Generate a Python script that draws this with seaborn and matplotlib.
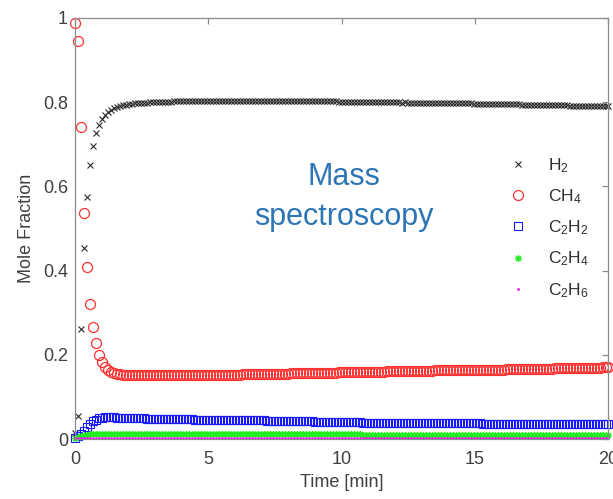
import matplotlib
matplotlib.use("Agg")
import matplotlib.pyplot as plt
import seaborn as sns
import pandas as pd

# ---------------- data ----------------
time_min = [
    0, 0.1125, 0.225, 0.3375, 0.45, 0.5625, 0.675, 0.7875,
    0.9, 1.0125, 1.125, 1.2375, 1.35, 1.4625, 1.575, 1.6875,
    1.8, 1.9125, 2.025, 2.1375, 2.25, 2.3625, 2.475, 2.5875,
    2.7, 2.8125, 2.925, 3.0375, 3.15, 3.2625, 3.375, 3.4875,
    3.6, 3.7125, 3.825, 3.9375, 4.05, 4.1625, 4.275, 4.3875,
    4.5, 4.6125, 4.725, 4.8375, 4.95, 5.0625, 5.175, 5.2875,
    5.4, 5.5125, 5.625, 5.7375, 5.85, 5.9625, 6.075, 6.1875,
    6.3, 6.4125, 6.525, 6.6375, 6.75, 6.8625, 6.975, 7.0875,
    7.2, 7.3125, 7.425, 7.5375, 7.65, 7.7625, 7.875, 7.9875,
    8.1, 8.2125, 8.325, 8.4375, 8.55, 8.6625, 8.775, 8.8875,
    9.0, 9.1125, 9.225, 9.3375, 9.45, 9.5625, 9.675, 9.7875,
    9.9, 10.0125, 10.125, 10.2375, 10.35, 10.4625, 10.575, 10.6875,
    10.8, 10.9125, 11.025, 11.1375, 11.25, 11.3625, 11.475, 11.5875,
    11.7, 11.8125, 11.925, 12.0375, 12.15, 12.2625, 12.375, 12.4875,
    12.6, 12.7125, 12.825, 12.9375, 13.05, 13.1625, 13.275, 13.3875,
    13.5, 13.6125, 13.725, 13.8375, 13.95, 14.0625, 14.175, 14.2875,
    14.4, 14.5125, 14.625, 14.7375, 14.85, 14.9625, 15.075, 15.1875,
    15.3, 15.4125, 15.525, 15.6375, 15.75, 15.8625, 15.975, 16.0875,
    16.2, 16.3125, 16.425, 16.5375, 16.65, 16.7625, 16.875, 16.9875,
    17.1, 17.2125, 17.325, 17.4375, 17.55, 17.6625, 17.775, 17.8875,
    18.0, 18.1125, 18.225, 18.3375, 18.45, 18.5625, 18.675, 18.7875,
    18.9, 19.0125, 19.125, 19.2375, 19.35, 19.4625, 19.575, 19.6875,
    19.8, 19.9125, 20.0,
]

h2 = [
    0.014, 0.055, 0.262, 0.454, 0.576, 0.652, 0.697, 0.728,
    0.747, 0.760, 0.770, 0.777, 0.782, 0.786, 0.789, 0.791,
    0.793, 0.794, 0.795, 0.796, 0.797, 0.798, 0.798, 0.799,
    0.799, 0.800, 0.800, 0.800, 0.801, 0.801, 0.801, 0.801,
    0.801, 0.802, 0.802, 0.802, 0.802, 0.802, 0.802, 0.802,
    0.803, 0.803, 0.803, 0.803, 0.803, 0.803, 0.803, 0.803,
    0.803, 0.804, 0.803, 0.803, 0.804, 0.803, 0.803, 0.803,
    0.803, 0.803, 0.804, 0.803, 0.803, 0.803, 0.803, 0.804,
    0.803, 0.803, 0.803, 0.803, 0.803, 0.803, 0.803, 0.803,
    0.803, 0.803, 0.803, 0.803, 0.802, 0.802, 0.802, 0.802,
    0.802, 0.802, 0.802, 0.802, 0.802, 0.802, 0.802, 0.802,
    0.801, 0.801, 0.801, 0.801, 0.801, 0.801, 0.801, 0.801,
    0.801, 0.801, 0.801, 0.800, 0.801, 0.800, 0.800, 0.800,
    0.800, 0.800, 0.800, 0.800, 0.800, 0.799, 0.800, 0.799,
    0.799, 0.799, 0.799, 0.799, 0.799, 0.798, 0.798, 0.798,
    0.798, 0.798, 0.798, 0.798, 0.798, 0.797, 0.797, 0.797,
    0.797, 0.797, 0.797, 0.797, 0.797, 0.796, 0.796, 0.796,
    0.796, 0.796, 0.796, 0.796, 0.796, 0.795, 0.795, 0.795,
    0.795, 0.795, 0.795, 0.795, 0.795, 0.794, 0.794, 0.794,
    0.794, 0.794, 0.794, 0.794, 0.794, 0.793, 0.793, 0.793,
    0.793, 0.793, 0.793, 0.793, 0.793, 0.792, 0.792, 0.792,
    0.792, 0.792, 0.792, 0.792, 0.792, 0.791, 0.791, 0.791,
    0.791, 0.791, 0.791,
]

ch4 = [
    0.987, 0.945, 0.740, 0.538, 0.409, 0.320, 0.266, 0.228,
    0.200, 0.182, 0.171, 0.164, 0.160, 0.157, 0.155, 0.154,
    0.153, 0.153, 0.152, 0.152, 0.152, 0.152, 0.152, 0.152,
    0.152, 0.151, 0.151, 0.151, 0.151, 0.151, 0.151, 0.151,
    0.151, 0.151, 0.151, 0.152, 0.152, 0.152, 0.152, 0.152,
    0.152, 0.152, 0.152, 0.152, 0.152, 0.152, 0.152, 0.152,
    0.153, 0.153, 0.153, 0.153, 0.153, 0.153, 0.153, 0.153,
    0.154, 0.154, 0.154, 0.154, 0.154, 0.154, 0.154, 0.154,
    0.155, 0.155, 0.155, 0.155, 0.155, 0.155, 0.155, 0.155,
    0.156, 0.156, 0.156, 0.156, 0.156, 0.156, 0.156, 0.156,
    0.157, 0.157, 0.157, 0.157, 0.157, 0.157, 0.157, 0.157,
    0.158, 0.158, 0.158, 0.158, 0.158, 0.159, 0.159, 0.159,
    0.159, 0.160, 0.160, 0.160, 0.160, 0.160, 0.160, 0.160,
    0.161, 0.161, 0.161, 0.161, 0.161, 0.161, 0.161, 0.161,
    0.162, 0.162, 0.162, 0.162, 0.162, 0.162, 0.162, 0.162,
    0.163, 0.163, 0.163, 0.163, 0.163, 0.163, 0.163, 0.163,
    0.164, 0.164, 0.164, 0.164, 0.164, 0.164, 0.164, 0.164,
    0.165, 0.165, 0.165, 0.165, 0.165, 0.165, 0.165, 0.165,
    0.166, 0.166, 0.166, 0.166, 0.166, 0.166, 0.166, 0.166,
    0.167, 0.167, 0.167, 0.167, 0.167, 0.167, 0.167, 0.167,
    0.168, 0.168, 0.168, 0.168, 0.168, 0.168, 0.168, 0.168,
    0.169, 0.169, 0.169, 0.169, 0.169, 0.169, 0.169, 0.169,
    0.170, 0.170, 0.170,
]

c2h2 = [
    0.002, 0.006, 0.012, 0.020, 0.028, 0.036, 0.042, 0.046,
    0.049, 0.051, 0.052, 0.052, 0.052, 0.052, 0.051, 0.051,
    0.050, 0.050, 0.050, 0.050, 0.049, 0.049, 0.049, 0.049,
    0.048, 0.048, 0.048, 0.048, 0.048, 0.048, 0.048, 0.048,
    0.047, 0.047, 0.047, 0.047, 0.047, 0.047, 0.047, 0.047,
    0.046, 0.046, 0.046, 0.046, 0.046, 0.046, 0.046, 0.046,
    0.045, 0.045, 0.045, 0.045, 0.045, 0.045, 0.045, 0.045,
    0.044, 0.044, 0.044, 0.044, 0.044, 0.044, 0.044, 0.044,
    0.043, 0.043, 0.043, 0.043, 0.043, 0.043, 0.043, 0.043,
    0.042, 0.042, 0.042, 0.042, 0.042, 0.042, 0.042, 0.042,
    0.041, 0.041, 0.041, 0.041, 0.041, 0.041, 0.041, 0.041,
    0.040, 0.040, 0.040, 0.040, 0.040, 0.040, 0.040, 0.040,
    0.039, 0.039, 0.039, 0.039, 0.039, 0.039, 0.039, 0.039,
    0.038, 0.038, 0.038, 0.038, 0.038, 0.038, 0.038, 0.038,
    0.038, 0.038, 0.038, 0.038, 0.038, 0.038, 0.038, 0.038,
    0.037, 0.037, 0.037, 0.037, 0.037, 0.037, 0.037, 0.037,
    0.037, 0.037, 0.037, 0.037, 0.037, 0.037, 0.037, 0.037,
    0.036, 0.036, 0.036, 0.036, 0.036, 0.036, 0.036, 0.036,
    0.036, 0.036, 0.036, 0.036, 0.036, 0.036, 0.036, 0.036,
    0.036, 0.036, 0.036, 0.036, 0.036, 0.036, 0.036, 0.036,
    0.035, 0.035, 0.035, 0.035, 0.035, 0.035, 0.035, 0.035,
    0.035, 0.035, 0.035, 0.035, 0.035, 0.035, 0.035, 0.035,
    0.035, 0.035, 0.035,
]

c2h4 = [
    0.003, 0.005, 0.007, 0.009, 0.010, 0.011, 0.011, 0.011,
    0.011, 0.011, 0.011, 0.011, 0.011, 0.011, 0.011, 0.011,
    0.011, 0.011, 0.011, 0.011, 0.011, 0.011, 0.011, 0.011,
    0.011, 0.011, 0.011, 0.011, 0.011, 0.011, 0.011, 0.011,
    0.011, 0.011, 0.011, 0.011, 0.011, 0.011, 0.011, 0.011,
    0.011, 0.011, 0.011, 0.011, 0.011, 0.011, 0.011, 0.011,
    0.011, 0.011, 0.011, 0.011, 0.011, 0.011, 0.011, 0.011,
    0.011, 0.011, 0.011, 0.011, 0.011, 0.011, 0.011, 0.011,
    0.011, 0.011, 0.011, 0.011, 0.011, 0.011, 0.011, 0.011,
    0.011, 0.011, 0.011, 0.011, 0.011, 0.011, 0.011, 0.011,
    0.011, 0.011, 0.011, 0.011, 0.011, 0.011, 0.011, 0.011,
    0.011, 0.011, 0.011, 0.011, 0.011, 0.011, 0.011, 0.011,
    0.010, 0.010, 0.010, 0.010, 0.010, 0.010, 0.010, 0.010,
    0.010, 0.010, 0.010, 0.010, 0.010, 0.010, 0.010, 0.010,
    0.010, 0.010, 0.010, 0.010, 0.010, 0.010, 0.010, 0.010,
    0.010, 0.010, 0.010, 0.010, 0.010, 0.010, 0.010, 0.010,
    0.010, 0.010, 0.010, 0.010, 0.010, 0.010, 0.010, 0.010,
    0.010, 0.010, 0.010, 0.010, 0.010, 0.010, 0.010, 0.010,
    0.010, 0.010, 0.010, 0.010, 0.010, 0.010, 0.010, 0.010,
    0.010, 0.010, 0.010, 0.010, 0.010, 0.010, 0.010, 0.010,
    0.010, 0.010, 0.010, 0.010, 0.010, 0.010, 0.010, 0.010,
    0.010, 0.010, 0.010, 0.010, 0.010, 0.010, 0.010, 0.010,
    0.010, 0.010, 0.010,
]

c2h6 = [
    0.002, 0.002, 0.003, 0.003, 0.003, 0.003, 0.003, 0.003,
    0.003, 0.003, 0.003, 0.003, 0.003, 0.003, 0.003, 0.003,
    0.003, 0.003, 0.003, 0.003, 0.003, 0.003, 0.003, 0.003,
    0.003, 0.003, 0.003, 0.003, 0.003, 0.003, 0.003, 0.003,
    0.003, 0.003, 0.003, 0.003, 0.003, 0.003, 0.003, 0.003,
    0.003, 0.003, 0.003, 0.003, 0.003, 0.003, 0.003, 0.003,
    0.003, 0.003, 0.003, 0.003, 0.003, 0.003, 0.003, 0.003,
    0.003, 0.003, 0.003, 0.003, 0.003, 0.003, 0.003, 0.003,
    0.003, 0.003, 0.003, 0.003, 0.003, 0.003, 0.003, 0.003,
    0.003, 0.003, 0.003, 0.003, 0.003, 0.003, 0.003, 0.003,
    0.003, 0.003, 0.003, 0.003, 0.003, 0.003, 0.003, 0.003,
    0.003, 0.003, 0.003, 0.003, 0.003, 0.003, 0.003, 0.003,
    0.003, 0.003, 0.003, 0.003, 0.003, 0.003, 0.003, 0.003,
    0.003, 0.003, 0.003, 0.003, 0.003, 0.003, 0.003, 0.003,
    0.003, 0.003, 0.003, 0.003, 0.003, 0.003, 0.003, 0.003,
    0.003, 0.003, 0.003, 0.003, 0.003, 0.003, 0.003, 0.003,
    0.003, 0.003, 0.003, 0.003, 0.003, 0.003, 0.003, 0.003,
    0.003, 0.003, 0.003, 0.003, 0.003, 0.003, 0.003, 0.003,
    0.003, 0.003, 0.003, 0.003, 0.003, 0.003, 0.003, 0.003,
    0.003, 0.003, 0.003, 0.003, 0.003, 0.003, 0.003, 0.003,
    0.003, 0.003, 0.003, 0.003, 0.003, 0.003, 0.003, 0.003,
    0.003, 0.003, 0.003, 0.003, 0.003, 0.003, 0.003, 0.003,
    0.003, 0.003, 0.003,
]

species_labels = ["H$_2$", "CH$_4$", "C$_2$H$_2$", "C$_2$H$_4$", "C$_2$H$_6$"]
x_ticks = [0, 5, 10, 15, 20]
y_ticks = [0, 0.2, 0.4, 0.6, 0.8, 1]
y_tick_labels = ["0", "0.2", "0.4", "0.6", "0.8", "1"]
annotation_text = "Mass\nspectroscopy"

# ---------------- styling ----------------
sns.set_theme(style="white")
plt.rcParams["font.family"] = ["Liberation Sans", "DejaVu Sans"]
plt.rcParams["mathtext.fontset"] = "custom"
plt.rcParams["mathtext.rm"] = "Liberation Sans"
plt.rcParams["mathtext.it"] = "Liberation Sans"

fig = plt.figure(figsize=(6.13, 4.99), dpi=100)
ax = fig.add_axes([75 / 613, 1 - 439 / 499, 533 / 613, 421 / 499])

series = [h2, ch4, c2h2, c2h4, c2h6]
colors = ["#2a2a2a", "#ff3030", "#1a1aff", "#22ee22", "#ff00ff"]
styles = [
    dict(marker="x", markersize=4.6, markeredgewidth=0.8),
    dict(marker="o", markersize=7.2, markeredgewidth=0.9, markerfacecolor="none"),
    dict(marker="s", markersize=5.2, markeredgewidth=0.8, markerfacecolor="none"),
    dict(marker=(8, 2, 0), markersize=5.0, markeredgewidth=0.8),
    dict(marker=".", markersize=2.8, markeredgewidth=0.5),
]

for vals, lab, col, st in zip(series, species_labels, colors, styles):
    df = pd.DataFrame({"t": time_min, "v": vals})
    sns.lineplot(data=df, x="t", y="v", ax=ax, linestyle="", label=lab,
                 color=col, markeredgecolor=col, clip_on=False, sort=False,
                 estimator=None, **st)

ax.set_xlim(0, 20)
ax.set_ylim(0, 1)
ax.set_xticks(x_ticks)
ax.set_xticklabels([str(v) for v in x_ticks])
ax.set_yticks(y_ticks)
ax.set_yticklabels(y_tick_labels)

spine_color = "#8c8c8c"
for s in ax.spines.values():
    s.set_visible(True)
    s.set_color(spine_color)
    s.set_linewidth(0.9)
ax.tick_params(axis="both", direction="in", length=4, width=0.9,
               colors=spine_color, labelcolor="#404040", labelsize=13,
               top=True, right=True)
ax.tick_params(axis="x", pad=9)
ax.tick_params(axis="y", pad=5)

ax.set_xlabel("Time [min]", fontsize=13, color="#404040", labelpad=4)
ax.set_ylabel("Mole Fraction", fontsize=13, color="#404040", labelpad=6)

ax.text(10.1, 0.575, annotation_text, ha="center", va="center",
        fontsize=22, color="#2e75b6", linespacing=1.4)

leg = ax.legend(loc="upper left", bbox_to_anchor=(0.815, 0.672),
                frameon=False, fontsize=12.5, handlelength=1.0,
                handletextpad=1.2, labelspacing=0.72, borderpad=0,
                borderaxespad=0, labelcolor="#303030")

fig.savefig("out.png", dpi=100)
